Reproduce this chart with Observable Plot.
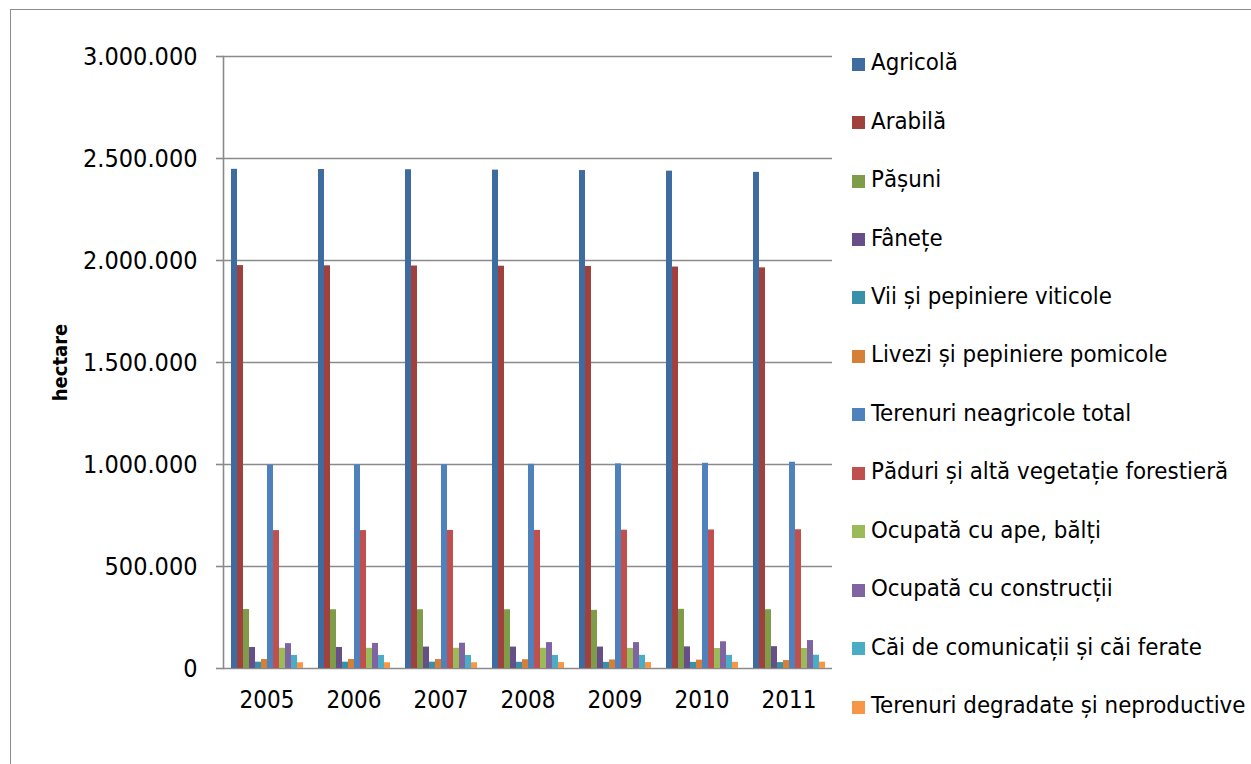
<!DOCTYPE html>
<html><head><meta charset="utf-8">
<script src="https://cdn.jsdelivr.net/npm/d3@7"></script>
<script src="https://cdn.jsdelivr.net/npm/@observablehq/plot@0.6"></script>
<style>
body{margin:0;background:#fff;font-family:"DejaVu Sans Condensed","DejaVu Sans",sans-serif;}
#wrap{position:relative;width:1251px;height:764px;overflow:hidden;background:#fff;}
#border{position:absolute;left:10px;top:9px;width:1300px;height:800px;border:1.5px solid #8c8c8c;}
#chart{position:absolute;left:0;top:0;}
#legend{position:absolute;left:852px;top:33px;}
.item{height:58.45px;display:flex;align-items:center;font-size:23.8px;color:#000;white-space:nowrap;}
.sw{width:13px;height:13px;margin-right:6px;flex:none;position:relative;top:2px;}
</style></head><body>
<div id="wrap"><div id="border"></div><div id="chart"></div><div id="legend"></div></div>
<script>
const years = [2005, 2006, 2007, 2008, 2009, 2010, 2011];
const seriesNames = ["Agricolă", "Arabilă", "Pășuni", "Fânețe", "Vii și pepiniere viticole", "Livezi și pepiniere pomicole", "Terenuri neagricole total", "Păduri și altă vegetație forestieră", "Ocupată cu ape, bălți", "Ocupată cu construcții", "Căi de comunicații și căi ferate", "Terenuri degradate și neproductive"];
const seriesColors = ["#3F6CA0", "#A0413E", "#7F9C48", "#664E88", "#3A90A8", "#D67F36", "#4F81BD", "#C0504D", "#9BBB59", "#8064A2", "#4BACC6", "#F79646"];
const agricola     = [2447000, 2446000, 2445000, 2443000, 2441000, 2438000, 2432000];
const arabila      = [1975000, 1974000, 1973000, 1972000, 1971000, 1968000, 1964000];
const pasuni       = [289000, 288000, 288000, 288000, 285000, 290000, 288000];
const fanete       = [103000, 103000, 105000, 105000, 105000, 106000, 107000];
const vii          = [31000, 31000, 31000, 30500, 30000, 30000, 29000];
const livezi       = [44000, 44000, 44000, 43000, 42000, 41000, 39000];
const neagricole   = [997000, 998000, 999000, 1001000, 1003000, 1006000, 1011000];
const paduri       = [676000, 676000, 677000, 677000, 678000, 679000, 680000];
const ape          = [99000, 99000, 99000, 99000, 98500, 98000, 98000];
const constructii  = [122000, 123000, 124000, 127000, 127000, 131000, 137000];
const cai          = [64000, 64000, 64000, 64000, 64500, 64500, 65000];
const degradate    = [28000, 28000, 28000, 29000, 29000, 30000, 31000];
const yTicks = [0, 500000, 1000000, 1500000, 2000000, 2500000, 3000000];

const seriesValues = [agricola, arabila, pasuni, fanete, vii, livezi, neagricole, paduri, ape, constructii, cai, degradate];
const data = years.flatMap((yr, i) => seriesNames.map((s, j) => ({year: yr, series: s, value: seriesValues[j][i]})));
const fmt = d3.formatLocale({decimal: ",", thousands: ".", grouping: [3], currency: ["", ""]}).format(",d");
const FONT = '"DejaVu Sans Condensed","DejaVu Sans",sans-serif';
const GRID = "#8a8a8a";

const chart = Plot.plot({
  width: 845, height: 764,
  marginLeft: 223, marginRight: 13, marginTop: 56, marginBottom: 96,
  style: {fontFamily: FONT, fontSize: "25px", color: "#000", background: "transparent", overflow: "visible"},
  fx: {domain: years, padding: 0, label: null, axis: null},
  x: {domain: seriesNames, paddingInner: 0, paddingOuter: 0.69, axis: null},
  y: {domain: [0, 3000000]},
  color: {domain: seriesNames, range: seriesColors},
  marks: [
    Plot.gridY(yTicks, {stroke: GRID, strokeOpacity: 1, strokeWidth: 1.6}),
    Plot.axisY(yTicks, {tickFormat: fmt, tickSize: 7, tickPadding: 19, stroke: GRID, strokeWidth: 1.6, label: null}),
    Plot.axisFx({anchor: "bottom", tickSize: 0, tickPadding: 22, tickFormat: d => String(d), fontSize: 24, label: null}),
    Plot.frame({anchor: "left", facetAnchor: "left", stroke: GRID, strokeWidth: 1.6}),
    Plot.text(["hectare"], {fx: () => years[0], frameAnchor: "left", textAnchor: "middle", rotate: -90, dx: -163, fontWeight: "bold", fontSize: 20, fill: "#000"}),
    Plot.barY(data, {fx: "year", x: "series", y: "value", fill: "series"})
  ]
});
document.getElementById("chart").appendChild(chart);

const legend = document.getElementById("legend");
seriesNames.forEach((name, i) => {
  const row = document.createElement("div");
  row.className = "item";
  const sw = document.createElement("span");
  sw.className = "sw";
  sw.style.background = seriesColors[i];
  const t = document.createElement("span");
  t.textContent = name;
  row.appendChild(sw); row.appendChild(t);
  legend.appendChild(row);
});
</script>
</body></html>
